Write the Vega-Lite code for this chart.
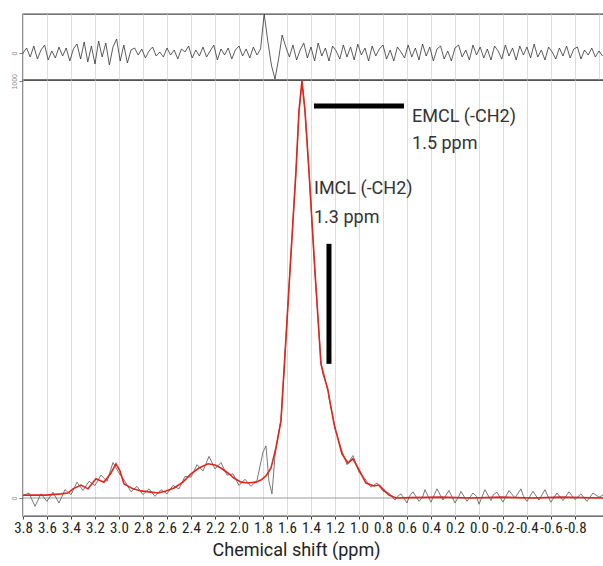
{
  "$schema": "https://vega.github.io/schema/vega-lite/v6.json",
  "background": "white",
  "padding": {"left": 8, "top": 13, "right": 0, "bottom": 0},
  "spacing": 0,
  "bounds": "flush",
  "config": {
    "view": {"stroke": "#4a4a4a", "strokeWidth": 1.4},
    "axisY": {"labelAngle": -90, "labelFontSize": 7, "labelColor": "#888", "tickColor": "#777", "tickSize": 4, "domain": false, "grid": false, "minExtent": 14, "maxExtent": 14, "labelPadding": 2, "title": null, "format": "d"}
  },
  "datasets": {
    "res": [
      {"x":3.80,"r":0},{"x":3.77,"r":5},{"x":3.74,"r":-4},{"x":3.71,"r":7},{"x":3.68,"r":-6},{"x":3.65,"r":3},{"x":3.62,"r":8},{"x":3.59,"r":-7},{"x":3.56,"r":2},{"x":3.53,"r":-5},
      {"x":3.50,"r":6},{"x":3.47,"r":-3},{"x":3.44,"r":5},{"x":3.41,"r":-8},{"x":3.38,"r":4},{"x":3.35,"r":9},{"x":3.32,"r":-6},{"x":3.29,"r":11},{"x":3.26,"r":-9},{"x":3.23,"r":7},
      {"x":3.20,"r":-11},{"x":3.17,"r":12},{"x":3.14,"r":-4},{"x":3.11,"r":10},{"x":3.08,"r":-12},{"x":3.05,"r":6},{"x":3.02,"r":14},{"x":2.99,"r":-8},{"x":2.96,"r":8},{"x":2.93,"r":-10},
      {"x":2.90,"r":3},{"x":2.87,"r":5},{"x":2.84,"r":-2},{"x":2.81,"r":4},{"x":2.78,"r":-5},{"x":2.75,"r":2},{"x":2.72,"r":6},{"x":2.69,"r":-3},{"x":2.66,"r":1},{"x":2.63,"r":-4},
      {"x":2.60,"r":5},{"x":2.57,"r":-2},{"x":2.54,"r":3},{"x":2.51,"r":-6},{"x":2.48,"r":4},{"x":2.45,"r":1},{"x":2.42,"r":7},{"x":2.39,"r":-5},{"x":2.36,"r":3},{"x":2.33,"r":-3},
      {"x":2.30,"r":6},{"x":2.27,"r":-4},{"x":2.24,"r":2},{"x":2.21,"r":8},{"x":2.18,"r":-7},{"x":2.15,"r":4},{"x":2.12,"r":-2},{"x":2.09,"r":5},{"x":2.06,"r":-6},{"x":2.03,"r":3},
      {"x":2.00,"r":7},{"x":1.97,"r":-3},{"x":1.94,"r":4},{"x":1.91,"r":-5},{"x":1.88,"r":6},{"x":1.85,"r":-2},{"x":1.82,"r":4},{"x":1.79,"r":39},{"x":1.76,"r":12},{"x":1.73,"r":-12},
      {"x":1.70,"r":-26},{"x":1.67,"r":-6},{"x":1.64,"r":18},{"x":1.61,"r":6},{"x":1.58,"r":-4},{"x":1.55,"r":8},{"x":1.52,"r":-7},{"x":1.49,"r":3},{"x":1.46,"r":10},{"x":1.43,"r":-5},
      {"x":1.40,"r":6},{"x":1.37,"r":-8},{"x":1.34,"r":10},{"x":1.31,"r":-3},{"x":1.28,"r":5},{"x":1.25,"r":-8},{"x":1.22,"r":7},{"x":1.19,"r":2},{"x":1.16,"r":-6},{"x":1.13,"r":8},
      {"x":1.10,"r":-4},{"x":1.07,"r":6},{"x":1.04,"r":-7},{"x":1.01,"r":9},{"x":0.98,"r":-2},{"x":0.95,"r":5},{"x":0.92,"r":-8},{"x":0.89,"r":7},{"x":0.86,"r":-3},{"x":0.83,"r":4},
      {"x":0.80,"r":8},{"x":0.77,"r":-6},{"x":0.74,"r":3},{"x":0.71,"r":-8},{"x":0.68,"r":6},{"x":0.65,"r":1},{"x":0.62,"r":-5},{"x":0.59,"r":8},{"x":0.56,"r":-4},{"x":0.53,"r":5},
      {"x":0.50,"r":-7},{"x":0.47,"r":9},{"x":0.44,"r":-3},{"x":0.41,"r":6},{"x":0.38,"r":-8},{"x":0.35,"r":4},{"x":0.32,"r":7},{"x":0.29,"r":-6},{"x":0.26,"r":2},{"x":0.23,"r":-8},
      {"x":0.20,"r":5},{"x":0.17,"r":8},{"x":0.14,"r":-4},{"x":0.11,"r":3},{"x":0.08,"r":-7},{"x":0.05,"r":8},{"x":0.02,"r":-2},{"x":-0.01,"r":6},{"x":-0.04,"r":-5},{"x":-0.07,"r":4},
      {"x":-0.10,"r":-7},{"x":-0.13,"r":7},{"x":-0.16,"r":2},{"x":-0.19,"r":-6},{"x":-0.22,"r":8},{"x":-0.25,"r":-3},{"x":-0.28,"r":5},{"x":-0.31,"r":-7},{"x":-0.34,"r":7},{"x":-0.37,"r":-2},
      {"x":-0.40,"r":6},{"x":-0.43,"r":-5},{"x":-0.46,"r":9},{"x":-0.49,"r":-4},{"x":-0.52,"r":3},{"x":-0.55,"r":-7},{"x":-0.58,"r":6},{"x":-0.61,"r":1},{"x":-0.64,"r":-6},{"x":-0.67,"r":5},
      {"x":-0.70,"r":-3},{"x":-0.73,"r":7},{"x":-0.76,"r":-5},{"x":-0.79,"r":4},{"x":-0.82,"r":6},{"x":-0.85,"r":-6},{"x":-0.88,"r":3},{"x":-0.91,"r":-2},{"x":-0.94,"r":5},{"x":-0.97,"r":-4},
      {"x":-1.00,"r":2},{"x":-1.03,"r":-3}
    ],
    "raw": [
      {"x":3.8,"y":5},{"x":3.75,"y":12},{"x":3.7,"y":-20},{"x":3.65,"y":10},{"x":3.6,"y":-8},{"x":3.55,"y":14},{"x":3.5,"y":-12},{"x":3.45,"y":20},{"x":3.4,"y":8},{"x":3.35,"y":38},
      {"x":3.3,"y":18},{"x":3.25,"y":40},{"x":3.2,"y":30},{"x":3.15,"y":55},{"x":3.1,"y":40},{"x":3.05,"y":85},{"x":3.0,"y":60},{"x":2.95,"y":40},{"x":2.9,"y":15},{"x":2.85,"y":28},
      {"x":2.8,"y":8},{"x":2.75,"y":22},{"x":2.7,"y":4},{"x":2.65,"y":20},{"x":2.6,"y":10},{"x":2.55,"y":30},{"x":2.5,"y":22},{"x":2.45,"y":52},{"x":2.4,"y":50},{"x":2.35,"y":80},
      {"x":2.3,"y":65},{"x":2.25,"y":100},{"x":2.2,"y":70},{"x":2.15,"y":85},{"x":2.1,"y":55},{"x":2.05,"y":58},{"x":2.0,"y":30},{"x":1.95,"y":45},{"x":1.9,"y":28},{"x":1.85,"y":42},
      {"x":1.8,"y":110},{"x":1.775,"y":125},{"x":1.75,"y":40},{"x":1.725,"y":10},{"x":1.7,"y":100},{"x":1.692,"y":118},{"x":1.65,"y":188},{"x":1.625,"y":300},{"x":1.575,"y":548},{"x":1.525,"y":782},
      {"x":1.5,"y":926},{"x":1.475,"y":998},{"x":1.45,"y":930},{"x":1.417,"y":788},{"x":1.367,"y":540},{"x":1.317,"y":328},{"x":1.3,"y":296},{"x":1.258,"y":262},{"x":1.25,"y":240},{"x":1.208,"y":182},
      {"x":1.2,"y":166},{"x":1.15,"y":120},{"x":1.1,"y":80},{"x":1.05,"y":102},{"x":1.0,"y":62},{"x":0.95,"y":46},{"x":0.9,"y":26},{"x":0.85,"y":36},{"x":0.8,"y":16},{"x":0.75,"y":12},
      {"x":0.7,"y":-5},{"x":0.67,"y":6},{"x":0.65,"y":10},{"x":0.6,"y":-12},{"x":0.58,"y":4},{"x":0.55,"y":15},{"x":0.5,"y":-8},{"x":0.47,"y":2},{"x":0.45,"y":20},{"x":0.4,"y":-10},{"x":0.35,"y":22},{"x":0.32,"y":6},{"x":0.3,"y":-5},{"x":0.25,"y":18},
      {"x":0.2,"y":-12},{"x":0.17,"y":3},{"x":0.15,"y":16},{"x":0.1,"y":-8},{"x":0.05,"y":12},{"x":0.02,"y":4},{"x":0.0,"y":-15},{"x":-0.05,"y":20},{"x":-0.1,"y":-6},{"x":-0.12,"y":8},{"x":-0.15,"y":14},{"x":-0.2,"y":-10},{"x":-0.25,"y":18},
      {"x":-0.3,"y":0},{"x":-0.35,"y":22},{"x":-0.37,"y":5},{"x":-0.4,"y":-8},{"x":-0.45,"y":16},{"x":-0.5,"y":-5},{"x":-0.55,"y":20},{"x":-0.57,"y":7},{"x":-0.6,"y":-10},{"x":-0.65,"y":12},{"x":-0.7,"y":-6},{"x":-0.75,"y":15},
      {"x":-0.8,"y":-4},{"x":-0.85,"y":10},{"x":-0.9,"y":-8},{"x":-0.95,"y":12},{"x":-1.0,"y":2},{"x":-1.04,"y":8}
    ],
    "fit": [
      {"x":3.8,"y":7},{"x":3.608,"y":7},{"x":3.483,"y":10},{"x":3.425,"y":12},{"x":3.383,"y":22},{"x":3.317,"y":31},{"x":3.258,"y":22},{"x":3.192,"y":46},{"x":3.125,"y":38},{"x":3.067,"y":60},
      {"x":3.025,"y":82},{"x":2.992,"y":65},{"x":2.958,"y":34},{"x":2.883,"y":22},{"x":2.817,"y":17},{"x":2.733,"y":14},{"x":2.675,"y":12},{"x":2.608,"y":17},{"x":2.542,"y":24},{"x":2.467,"y":38},
      {"x":2.4,"y":58},{"x":2.333,"y":72},{"x":2.258,"y":82},{"x":2.2,"y":79},{"x":2.15,"y":72},{"x":2.092,"y":60},{"x":2.042,"y":48},{"x":1.983,"y":38},{"x":1.925,"y":36},{"x":1.858,"y":38},
      {"x":1.817,"y":43},{"x":1.775,"y":53},{"x":1.733,"y":72},{"x":1.692,"y":120},{"x":1.65,"y":185},{"x":1.625,"y":305},{"x":1.575,"y":545},{"x":1.525,"y":785},{"x":1.5,"y":929},{"x":1.475,"y":1001},
      {"x":1.45,"y":929},{"x":1.417,"y":785},{"x":1.367,"y":545},{"x":1.317,"y":322},{"x":1.258,"y":257},{"x":1.208,"y":178},{"x":1.142,"y":106},{"x":1.092,"y":84},{"x":1.05,"y":94},{"x":1.008,"y":72},
      {"x":0.942,"y":36},{"x":0.875,"y":29},{"x":0.833,"y":31},{"x":0.792,"y":19},{"x":0.75,"y":7},{"x":0.692,"y":0},{"x":0.567,"y":1},{"x":0.317,"y":2},{"x":0.067,"y":0},{"x":-0.183,"y":2},
      {"x":-0.433,"y":0},{"x":-0.683,"y":2},{"x":-1.04,"y":0}
    ],
    "base": [{"x":3.8,"y":0},{"x":-1.042,"y":0}],
    "bars": [
      {"x":1.375,"x2":0.625,"y":941,"y2":941},
      {"x":1.25,"x2":1.25,"y":610,"y2":322}
    ],
    "ann": [
      {"x":0.558,"y":902,"t":"EMCL (-CH2)"},
      {"x":0.558,"y":838,"t":"1.5 ppm"},
      {"x":1.375,"y":730,"t":"IMCL (-CH2)"},
      {"x":1.375,"y":660,"t":"1.3 ppm"}
    ]
  },
  "vconcat": [
    {
      "width": 581,
      "height": 66,
      "data": {"name": "res"},
      "mark": {"type": "line", "color": "#333333", "strokeWidth": 0.8, "clip": true},
      "encoding": {
        "x": {"field": "x", "type": "quantitative",
              "scale": {"domain": [-1.042, 3.8], "reverse": true, "nice": false, "zero": false},
              "axis": {"values": [3.8,3.6,3.4,3.2,3.0,2.8,2.6,2.4,2.2,2.0,1.8,1.6,1.4,1.2,1.0,0.8,0.6,0.4,0.2,0.0,-0.2,-0.4,-0.6,-0.8,-1.0],
                       "grid": true, "gridColor": "#dddddd", "gridWidth": 1, "labels": false, "ticks": false, "domain": false, "title": null}},
        "y": {"field": "r", "type": "quantitative",
              "scale": {"domain": [-27, 39], "nice": false, "zero": false},
              "axis": {"values": [0]}}
      }
    },
    {
      "width": 581,
      "height": 436,
      "encoding": {
        "x": {"field": "x", "type": "quantitative",
              "scale": {"domain": [-1.042, 3.8], "reverse": true, "nice": false, "zero": false},
              "axis": {"values": [3.8,3.6,3.4,3.2,3.0,2.8,2.6,2.4,2.2,2.0,1.8,1.6,1.4,1.2,1.0,0.8,0.6,0.4,0.2,0.0,-0.2,-0.4,-0.6,-0.8],
                       "labelExpr": "replace(format(datum.value, '.1f'), '\u2212', '-')",
                       "grid": true, "gridColor": "#dddddd", "gridWidth": 1,
                       "domain": false, "ticks": true, "tickSize": 3, "tickColor": "#444444",
                       "labelFont": "Roboto Condensed, DejaVu Sans Condensed, Roboto", "labelFontSize": 15, "labelColor": "#222222", "labelPadding": 1, "labelFlush": false, "labelOverlap": false,
                       "title": "Chemical shift (ppm)", "titleFont": "Roboto", "titleFontSize": 18, "titleFontWeight": "normal", "titleColor": "#222222", "titlePadding": 6, "titleX": 273}},
        "y": {"field": "y", "type": "quantitative",
              "scale": {"domain": [-43.2, 1003.2], "nice": false, "zero": false},
              "axis": {"values": [0, 1000]}}
      },
      "layer": [
        {"data": {"name": "base"}, "mark": {"type": "line", "color": "#9a9a9a", "strokeWidth": 1}},
        {"data": {"name": "raw"}, "mark": {"type": "line", "color": "#555555", "strokeWidth": 0.8, "clip": true}},
        {"data": {"name": "fit"}, "mark": {"type": "line", "color": "#e1251b", "strokeWidth": 1.6, "clip": true}},
        {"data": {"name": "bars"}, "mark": {"type": "rule", "color": "#000000", "strokeWidth": 5},
         "encoding": {"x2": {"field": "x2"}, "y2": {"field": "y2"}}},
        {"data": {"name": "ann"}, "mark": {"type": "text", "align": "left", "baseline": "alphabetic", "font": "Roboto", "fontSize": 18, "color": "#333333"},
         "encoding": {"text": {"field": "t"}}}
      ]
    }
  ]
}
